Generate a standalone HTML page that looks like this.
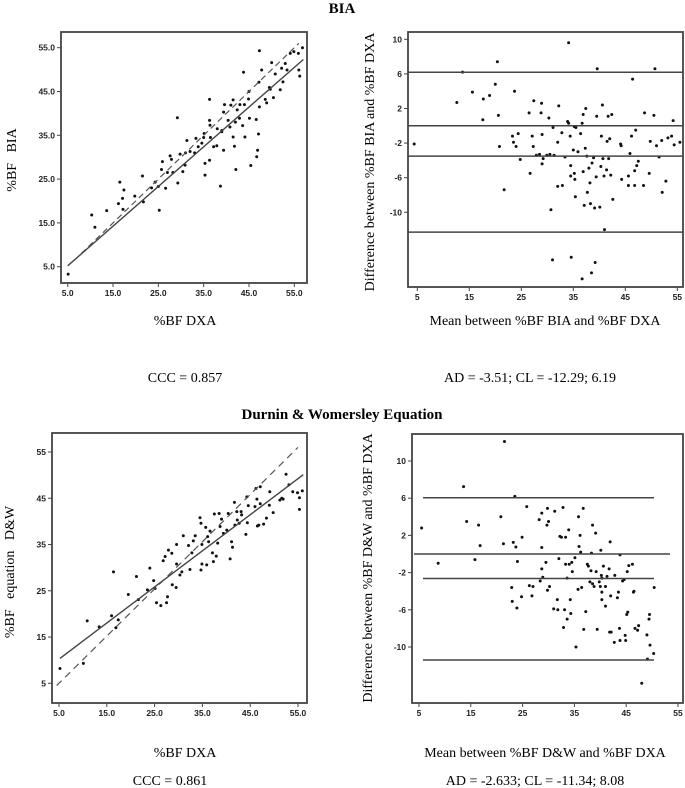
<!DOCTYPE html>
<html><head><meta charset="utf-8"><style>
html,body{margin:0;padding:0;background:#fff;}
svg{display:block;font-family:"Liberation Serif",serif;}
.tk{font-family:"Liberation Sans",sans-serif;font-size:8.5px;fill:#222;font-weight:bold;}
</style></head><body>
<svg id="fig" width="685" height="788" viewBox="0 0 685 788">
<text x="342" y="13" text-anchor="middle" font-weight="bold" font-size="15">BIA</text>
<text x="342" y="419" text-anchor="middle" font-weight="bold" font-size="15">Durnin &amp; Womersley Equation</text>
<text x="185" y="325" text-anchor="middle" font-size="14">%BF DXA</text>
<text x="545" y="325" text-anchor="middle" font-size="14">Mean between %BF BIA and %BF DXA</text>
<text x="185" y="757" text-anchor="middle" font-size="14">%BF DXA</text>
<text x="545" y="757" text-anchor="middle" font-size="14">Mean between %BF D&amp;W and %BF DXA</text>
<text transform="translate(16,160) rotate(-90)" text-anchor="middle" font-size="14">%BF&#160;&#160;&#160;BIA</text>
<text transform="translate(374,162) rotate(-90)" text-anchor="middle" font-size="14">Difference between %BF BIA and %BF DXA</text>
<text transform="translate(14,572) rotate(-90)" text-anchor="middle" font-size="14">%BF&#160;&#160;&#160;equation&#160;&#160;&#160;D&amp;W</text>
<text transform="translate(372,568) rotate(-90)" text-anchor="middle" font-size="14">Difference between %BF D&amp;W and %BF DXA</text>
<text x="185" y="382" text-anchor="middle" font-size="14">CCC = 0.857</text>
<text x="530" y="382" text-anchor="middle" font-size="14">AD = -3.51; CL = -12.29; 6.19</text>
<text x="170" y="785" text-anchor="middle" font-size="14">CCC = 0.861</text>
<text x="535" y="785" text-anchor="middle" font-size="14">AD = -2.633; CL = -11.34; 8.08</text>
</svg>
<script>
// Panel 1: BIA vs DXA
const p1X=[5.1,10.3,11,13.6,16.5,16.2,17.1,17.4,17.2,19.8,21.5,21.7,23.5,24.3,25.2,25,25.9,25.7,26.6,27.6,27.9,28.2,29.2,29.3,29.8,30.4,30.9,31.3,32,33.3,33.8,34.6,35.1,35.3,35.3,36.3,36.3,36.4,36.3,37.2,37.9,38.7,39,39.4,39.6,39.4,40.4,40.8,41,41.5,41.5,41.8,42.1,42.4,42.9,43.6,43.8,44.1,44.9,45.1,45.4,46.6,46.7,46.9,47.1,47.2,47.3,47.3,47.8,48.6,48.9,49.5,49.7,50,50.4,50.8,51.9,52.2,52.5,53,53.4,54.1,54.9,55.9,56,56.2,56.8,35,38,33,31,44,45,27,36.5,39,42,43];
const p1Y=[3.3,16.8,14,17.8,24.3,19.4,20.6,22.5,18.1,21.1,25.7,19.8,23,24.3,17.9,23.3,29,27.2,22.9,30.3,29.5,26.5,39,24.1,30.7,26.7,28.2,33.8,31.3,34.3,32.4,33.2,35.4,25.9,28.6,43.2,38.4,37.3,29.3,32.4,32.6,23.4,36.1,40.3,42,31.6,38.4,36.9,41.9,43.1,34.6,32.5,27.2,40.8,38.9,37.2,49.4,34.6,43.3,38.9,28.1,38.6,30.1,31.6,35.3,47.1,54.3,41.5,49.9,43.2,42.4,45.9,45.5,51.6,43.6,49,45.4,50.3,47.2,51.4,49.9,53.7,54.1,53.7,49.9,48.5,55,34.5,36.5,31,31,42,45,26.5,34.5,35.8,38,42];
const p1Fit=[0.67,0.906]; // intercept, slope
const p1Ticks=["5.0","15.0","25.0","35.0","45.0","55.0"];
const p1TickVals=[5,15,25,35,45,55];
// Panel 2: Bland-Altman BIA
const p2X=[4.4,12.6,13.7,15.6,17.7,17.6,18.9,20,20.4,20.6,20.8,21.7,23.3,23.7,23.5,24,24.4,24.8,26.5,26.7,27.1,27.3,27.4,27.9,28.5,28.8,28.9,29,29,29.2,29.9,30.3,30.5,30.7,31,31.1,31.3,32,32,32.2,32.8,32.9,33.4,33.9,34.1,34.1,34.4,34.5,34.5,34.6,35,35.2,35.2,35.3,35.4,35.5,35.9,36.4,36.7,36.7,36.9,36.9,37.1,37.3,37.4,37.6,37.7,38,38.2,38.3,38.5,38.6,38.9,39.1,39.2,39.4,39.5,39.6,40.1,40.3,40.4,40.6,40.7,40.9,41,41.4,41.5,41.7,41.8,42,42.2,42.4,42.6,44.1,44.2,44.3,45.6,45.6,45.9,46.2,46.4,46.8,46.8,47,47.2,47.5,48.5,48.7,49.6,49.8,50.5,50.7,51,51.5,52,52.1,52.8,53.2,53.9,54.2,54.4,55.5];
const p2Y=[-2.1,2.7,6.2,3.9,3.1,0.7,3.5,4.8,7.4,1.2,-2.4,-7.4,-1.2,4,-1.9,-2.4,-0.9,-3.9,1.5,-5.5,-1.2,-2.4,2.9,-3.4,-3.3,1.5,2.6,-1,-4.4,-3.8,-3.4,0.9,-3.3,-9.7,-15.5,-0.2,-3.4,-7,-1.9,2.3,-0.8,-6.9,-3.6,0.5,9.6,0.3,-1.2,-4.6,-5.8,-15.2,-2.8,-0.1,-5.5,-6.2,-8.2,-0.2,-3,-0.9,0.3,-17.7,1.3,-5.3,-9.2,-2.6,2,-3.5,-7.7,-4.9,-6.6,-9,-17,-4.3,-3.7,-9.5,-15.8,-5.9,1.1,6.6,-9.4,-4.7,-1.2,2.4,-3.8,-5.8,-12,-5.1,-1.8,1.1,-3.8,-1.5,-5.7,1.3,-8.5,-2.1,-2.3,-6.2,-5.8,-6.9,-3.2,-1.2,5.4,-5.2,-6.9,-0.5,-4.6,-4.1,-6.9,1.5,-5.5,-1.8,1.2,6.6,-2.3,-3.6,-1.7,-7.7,-6.4,-1.4,-1.2,0.6,-2.2,-1.9];
const p2Lines=[6.19,0,-3.51,-12.29];
const p2Ticks=["5","15","25","35","45","55"];
const p2YTicks=["10","6","2","-2","-6","-10"];
const p2YTickVals=[10,6,2,-2,-6,-10];
// Panel 3: D&W vs DXA
const p3X=[5.2,10.1,10.9,13.4,16,16.4,16.9,17.4,19.5,21.2,21.6,24,23.5,24.8,25.1,25.4,26.3,26.8,27.2,27.5,27.7,27.9,28.6,28.7,29.5,29.6,29.6,30.3,30.7,31,32.1,32.4,32.8,33.1,33.5,34.5,34.7,34.9,34.9,34.7,35.7,35.9,36.1,36.3,36.6,37.1,37.3,37.5,37.9,38.2,38.5,38.7,39,39.4,40.1,40.4,40.8,41.1,41.3,41.7,41.8,42.2,42.3,42.7,43.1,43.2,44.1,44.3,44.4,44.6,46,46.2,46.4,46.5,46.8,47.1,47.1,47.8,48.4,49,49.1,49.8,51.2,51.6,51.9,52.5,53.1,53.9,54.9,55.3,55.3,55.9];
const p3Y=[8.2,9.3,18.5,17.2,19.6,29.1,17,18.7,24.2,28.1,23.1,29.9,25.2,27.2,25.5,22.4,21.8,31.5,32.4,22.4,23.7,33.8,33.1,26.3,25.7,35,30.8,28.4,29.1,36.9,34.8,29.6,33.2,35.8,36.9,40.8,39.6,30.8,35,29.5,38.7,30.6,36.7,35.6,37.9,33.2,31.3,41.6,32.5,35.3,41.7,38.9,40.5,37.4,38.1,41.7,31.9,35.6,34.4,44.1,39.2,42.1,40.3,39.6,42.1,41.4,37.2,45.3,39.7,43.4,43.2,47.1,44.8,39,39.2,47.5,43.8,39.4,40.7,43.5,46.4,41.9,44.6,45,44.8,50.2,47.9,46.4,46.2,45.1,42.6,46.6];
const p3Fit=[6.33,0.78];
const p3YTicks=["5","15","25","35","45","55"];
// Panel 4: Bland-Altman D&W
const p4X=[5.5,8.7,13.6,14.2,15.8,16.5,16.8,20.8,21.3,21.5,22.9,23,23.2,23.5,23.7,23.9,24,24.8,24.9,25.8,26.3,26.8,27,28.2,28.4,28.7,28.7,28.7,28.9,29.5,29.7,29.8,29.8,30,30.2,31,31.2,31.7,31.8,32,32.2,32.5,32.8,32.9,33.1,33.3,33.3,33.6,33.6,33.9,34,34.2,34.3,34.5,34.6,35.1,35.3,35.7,35.8,35.9,36.1,36.2,36.4,36.7,36.8,37.2,37.5,37.7,38,38.2,38.3,38.5,38.5,38.8,39.1,39.2,39.4,39.8,40,40.1,40.2,40.3,40.3,40.3,40.6,41,41,41.3,41.7,41.8,41.9,42,42.1,42.8,42.7,43.3,43.5,43.7,43.8,43.8,44.3,44.6,44.8,44.9,45.1,45.2,45.3,45.5,46.2,46.4,46.5,46.7,47.2,47.4,48,49,49.1,49.4,49.5,49.6,50.3,50.4];
const p4Y=[2.8,-1,7.25,3.5,-0.6,3.1,0.9,4,1.1,12.1,-3.6,-5.1,1.25,6.2,0.75,-5.8,-0.8,-4.6,1.8,5.1,-3.4,-4.5,-3.5,3.7,-2.9,4.4,0.7,-1.6,-2.5,-0.9,3.1,4.9,-3.9,3.5,-3.5,-5.9,4.6,-4.9,-6,-0.5,1.9,1.8,5,-7.9,-6,1.8,-1.1,-7,-2.6,2.6,-1.1,-4.9,-6.4,-0.9,-1.9,-0.4,-10,-3.8,4,0.8,2,0.2,-3.6,4.9,-8.1,-6.2,-1.1,-1.3,-3,-1.8,0.1,3.1,-3.2,-3.5,2.25,-1.9,-8.1,-3,-3.5,0.4,-2.3,-4.1,-4.9,-2.6,-1.3,-3.5,-5.6,-2.4,-1.6,-8.4,1.3,-4.5,-8.4,-2.3,-9.5,-4.7,-4.1,-8,-0.1,-9.3,-2.9,-2.75,-8.75,-9.3,-6.5,-1.9,-6.25,-1.25,-1.1,-4.1,-4,-8,-8.2,-7.7,-13.9,-8.7,-11.3,-7,-6.5,-9.8,-10.7,-3.6];
const p4Lines=[6.05,0,-2.633,-11.4];

const NS="http://www.w3.org/2000/svg";
const svg=document.getElementById('fig');
function mk(tag,attrs,parent){const e=document.createElementNS(NS,tag);for(const k in attrs)e.setAttribute(k,attrs[k]);(parent||svg).appendChild(e);return e;}
function lin(d0,d1,r0,r1){return v=>r0+(v-d0)*(r1-r0)/(d1-d0);}

function panel(name,box,sx,sy,xTV,xTL,yTV,yTL,X,Y){
  const g=mk('g',{});
  
  
  const r=mk('rect',{x:box[0],y:box[1],width:box[2]-box[0],height:box[3]-box[1],fill:'#fff',stroke:'#444','stroke-width':1.8},g);
  
  
  xTV.forEach((v,i)=>{const x=sx(v);
    mk('line',{x1:x,x2:x,y1:box[3],y2:box[3]+4,stroke:'#444'},g);
    const t=mk('text',{x:x,y:box[3]+13,'text-anchor':'middle',class:'tk'},g);t.textContent=xTL[i];
    
    });
  yTV.forEach((v,i)=>{const y=sy(v);
    mk('line',{x1:box[0]-4,x2:box[0],y1:y,y2:y,stroke:'#444'},g);
    const t=mk('text',{x:box[0]-6,y:y+3,'text-anchor':'end',class:'tk'},g);t.textContent=yTL[i];
    
    });
  X.forEach((v,i)=>{const c=mk('circle',{cx:sx(v),cy:sy(Y[i]),r:1.5,fill:'#111'},g);
    
    });
  return g;
}
// P1
{const sx=lin(5,55,67.7,294.3),sy=lin(5,55,266.7,47.7);
 const g=panel('bia-scatter',[61,32,307,283],sx,sy,p1TickVals,p1Ticks,p1TickVals,p1Ticks,p1X,p1Y);
 const d=mk('line',{x1:sx(8),y1:sy(8),x2:sx(56),y2:sy(56),stroke:'#555','stroke-width':1.2,'stroke-dasharray':'6,4'},g);
 
 
 const l=mk('line',{x1:sx(5),y1:sy(p1Fit[0]+p1Fit[1]*5),x2:sx(57),y2:sy(p1Fit[0]+p1Fit[1]*57),stroke:'#444','stroke-width':1.4},g);
 
 }
// P2
{const sx=lin(5,55,417.3,677.3),sy=lin(10,-10,39.3,212.3);
 const g=panel('bia-bland-altman',[408,32,683,287],sx,sy,p1TickVals,p2Ticks,p2YTickVals,p2YTicks,p2X,p2Y);
 p2Lines.forEach(v=>{const l=mk('line',{x1:408,x2:683,y1:sy(v),y2:sy(v),stroke:'#444','stroke-width':1.5},g);
  
  });}
// P3
{const sx=lin(5,55,59,298),sy=lin(5,55,683.3,452);
 const g=panel('dw-scatter',[52,433,307,703],sx,sy,p1TickVals,p1Ticks,p1TickVals,p3YTicks,p3X,p3Y);
 const d=mk('line',{x1:sx(4.5),y1:sy(4.5),x2:sx(55),y2:sy(56),stroke:'#555','stroke-width':1.2,'stroke-dasharray':'7,5'},g);
 
 
 const l=mk('line',{x1:sx(5.2),y1:sy(p3Fit[0]+p3Fit[1]*5.2),x2:sx(56.1),y2:sy(p3Fit[0]+p3Fit[1]*56.1),stroke:'#444','stroke-width':1.4},g);
 
 }
// P4
{const sx=lin(5,55,419,678),sy=lin(10,-10,461,647);
 const g=panel('dw-bland-altman',[412,434,683,703],sx,sy,p1TickVals,p2Ticks,p2YTickVals,p2YTicks,p4X,p4Y);
 p4Lines.forEach(v=>{const full=(v===0);
  const l=mk('line',{x1:full?414:423,x2:full?670:654,y1:sy(v),y2:sy(v),stroke:'#444','stroke-width':1.5},g);
  
  });}
</script>
</body></html>
